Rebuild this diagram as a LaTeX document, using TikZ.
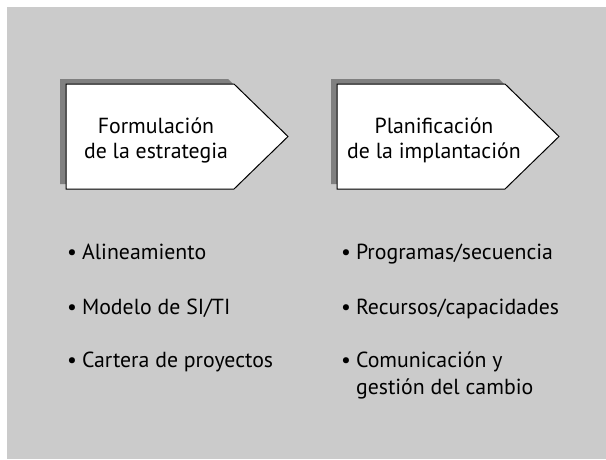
\documentclass[tikz,border=0pt]{standalone}
\usepackage{fontspec}
\setmainfont{PT Sans}
\definecolor{bggray}{RGB}{203,203,203}
\definecolor{shadowgray}{RGB}{128,128,128}
\newcommand\bulitem[1]{\begin{tabular}[t]{@{}l@{\hspace{5pt}}l@{}}\textbullet & #1\end{tabular}}
\begin{document}
\begin{tikzpicture}[x=1pt,y=-1pt,
  shadowshape/.style={fill=shadowgray},
  arrowshape/.style={fill=white,draw=black,line width=1pt,line join=miter},
  title/.style={align=center,font=\fontsize{21.8}{25}\selectfont,inner sep=0pt},
  item/.style={anchor=base west,font=\fontsize{21.8}{27}\selectfont,inner sep=0pt}]
\useasboundingbox (0,0) rectangle (606,459);
\fill[bggray] (7,7) rectangle (606,459);
% shape 1
\fill[shadowgray] (60,79) -- (228,79) -- (282,131.5) -- (228,184) -- (60,184) -- cycle;
\draw[arrowshape] (66,84) -- (234,84) -- (288,136.5) -- (234,189) -- (66,189) -- cycle;
% shape 2
\fill[shadowgray] (331,79) -- (499,79) -- (553,131.5) -- (499,184) -- (331,184) -- cycle;
\draw[arrowshape] (337,84) -- (505,84) -- (559,136.5) -- (505,189) -- (337,189) -- cycle;
\node[title] (t1) at (156,140) {Formulación\\de la estrategia};
\node[title] (t2) at (434,140) {Planificación\\de la implantación};
\node[item] (a1) at (67,259) {\bulitem{Alineamiento}};
\node[item] (a2) at (67,314) {\bulitem{Modelo de SI/TI}};
\node[item] (a3) at (67,367) {\bulitem{Cartera de proyectos}};
\node[item] (b1) at (341,259) {\bulitem{Programas/secuencia}};
\node[item] (b2) at (341,314) {\bulitem{Recursos/capacidades}};
\node[item] (b3) at (341,367) {\bulitem{Comunicación y\\ & gestión del cambio}};
\end{tikzpicture}
\end{document}
